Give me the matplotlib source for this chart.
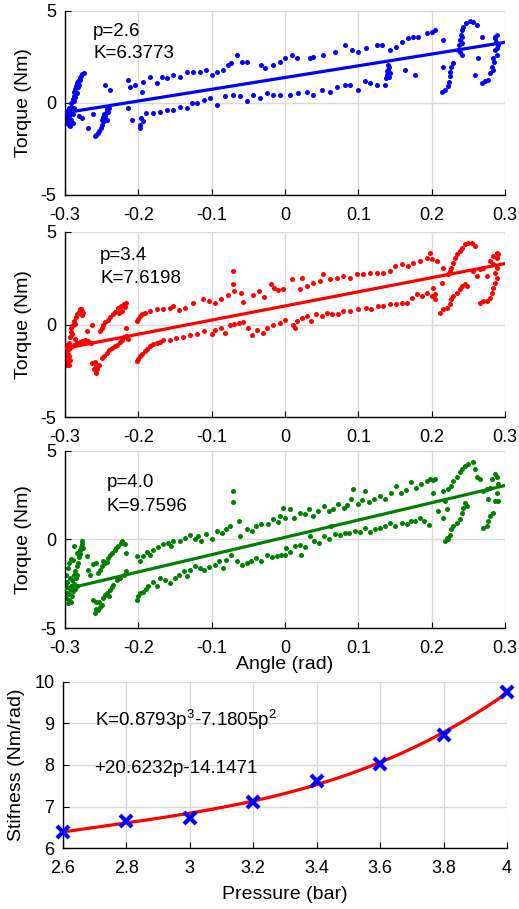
import matplotlib
matplotlib.use("Agg")
import matplotlib.pyplot as plt
from matplotlib.ticker import FormatStrFormatter
import numpy as np

plt.rcParams['font.family'] = ['Liberation Sans', 'DejaVu Sans']
plt.rcParams['mathtext.fontset'] = 'custom'
plt.rcParams['mathtext.rm'] = 'Liberation Sans'
plt.rcParams['mathtext.it'] = 'Liberation Sans'
plt.rcParams['axes.unicode_minus'] = False

# measured angle (rad) / torque (Nm) samples, p = 2.6 bar
torque_p26 = [
    (-0.298, -0.5), (-0.297, -0.8), (-0.296, -1.0), (-0.295, -1.2), (-0.294, -0.3), (-0.293, -0.6),
    (-0.292, 0.0), (-0.291, -0.9), (-0.290, -0.4), (-0.289, -1.1), (-0.288, 0.1), (-0.291, -0.2),
    (-0.294, -0.7), (-0.296, -0.4), (-0.289, -0.6), (-0.287, -0.3), (-0.297, -1.1), (-0.293, -1.25),
    (-0.299, -0.7), (-0.289, 0.2), (-0.288, 0.4), (-0.287, 0.6), (-0.286, 0.75), (-0.285, 0.9),
    (-0.284, 1.0), (-0.283, 1.1), (-0.282, 1.2), (-0.280, 1.35), (-0.278, 1.45), (-0.276, 1.55),
    (-0.274, 1.6), (-0.286, 0.3), (-0.284, 0.55), (-0.282, 0.85), (-0.281, 1.0), (-0.279, 1.25),
    (-0.281, -0.7), (-0.276, -0.8), (-0.268, -1.35), (-0.262, -0.6),
    (-0.259, -1.8), (-0.257, -1.75), (-0.255, -1.65), (-0.253, -1.5), (-0.251, -1.35), (-0.249, -1.2),
    (-0.247, -1.0), (-0.246, -0.85), (-0.245, -0.7), (-0.244, -0.55), (-0.243, -0.45), (-0.242, -0.35),
    (-0.241, -0.5), (-0.246, -0.6), (-0.248, -0.75), (-0.243, -0.9), (-0.240, -0.3), (-0.250, -0.9),
    (-0.245, 0.98), (-0.239, 0.71), (-0.2136, -0.29), (-0.209, -0.92),
    (-0.198, -1.38), (-0.197, -1.2), (-0.196, -0.83), (-0.194, -1.0), (-0.189, -0.56), (-0.18, -0.56),
    (-0.1705, -0.47), (-0.161, -0.38), (-0.152, -0.38), (-0.143, -0.2), (-0.134, -0.29), (-0.127, 0.0),
    (-0.1205, 0.0), (-0.111, 0.18), (-0.102, 0.27), (-0.093, -0.11), (-0.0818, 0.36), (-0.0705, 0.45),
    (-0.0614, 0.36), (-0.0523, 0.09), (-0.043, 0.45), (-0.034, 0.27), (-0.025, 0.54), (-0.016, 0.45),
    (-0.0068, 0.43), (0.0068, 0.43), (0.0182, 0.52), (0.0295, 0.62), (0.0386, 0.43), (0.05, 0.7),
    (0.061, 0.62), (0.0705, 0.89), (0.0818, 0.98), (0.0886, 0.98), (0.1, 0.7), (0.109, 1.2),
    (0.116, 1.07), (0.125, 0.98), (0.136, 0.98),
    (0.138, 1.35), (0.139, 1.5), (0.14, 1.65), (0.141, 1.8), (0.142, 1.95), (0.14, 2.05),
    (0.143, 1.6), (0.139, 1.75), (0.142, 1.4), (0.164, 1.79), (0.1773, 1.52),
    (-0.2136, 1.25), (-0.2114, 0.89), (-0.2045, 0.98), (-0.1955, 0.62), (-0.1932, 1.12), (-0.184, 1.43),
    (-0.175, 1.07), (-0.168, 1.43), (-0.161, 1.34), (-0.152, 1.52), (-0.143, 1.43), (-0.134, 1.7),
    (-0.125, 1.7), (-0.116, 1.7), (-0.107, 1.79), (-0.1, 1.5), (-0.093, 1.7), (-0.084, 1.79),
    (-0.077, 2.07), (-0.073, 2.16), (-0.066, 2.61), (-0.059, 2.25), (-0.052, 2.25), (-0.032, 2.07),
    (-0.027, 1.88), (-0.016, 2.07), (-0.0068, 2.25), (0.0, 2.43),
    (0.009, 2.61), (0.016, 2.43), (0.034, 2.43), (0.0386, 2.52), (0.052, 2.61), (0.068, 2.79),
    (0.082, 3.15), (0.091, 2.88), (0.1, 2.79), (0.111, 2.97), (0.125, 3.15), (0.132, 3.15),
    (0.143, 2.88), (0.152, 3.06), (0.159, 3.33), (0.168, 3.51), (0.175, 3.6), (0.182, 3.6),
    (0.193, 3.79), (0.2, 3.88), (0.2045, 3.97), (0.2159, 3.42),
    (0.2145, 0.58), (0.2177, 0.71), (0.2227, 0.9), (0.2236, 1.16), (0.2245, 1.44), (0.2255, 1.7),
    (0.227, 1.97), (0.2296, 2.16), (0.2159, 1.97),
    (0.2364, 2.88), (0.2377, 3.15), (0.2386, 3.42), (0.2395, 3.7), (0.241, 3.97), (0.2432, 4.15),
    (0.2468, 4.33), (0.2523, 4.45), (0.2568, 4.42), (0.2614, 4.24), (0.268, 3.6), (0.241, 3.24),
    (0.2386, 2.79), (0.242, 3.6), (0.241, 2.61), (0.2636, 2.43), (0.259, 1.52),
    (0.268, 1.07), (0.2727, 1.2), (0.277, 1.26), (0.2795, 1.63), (0.2818, 1.97), (0.2841, 2.43),
    (0.2864, 2.88), (0.2877, 3.33), (0.2886, 3.7), (0.2864, 3.51), (0.2909, 3.15), (0.2886, 2.61),
    (0.2841, 1.79), (0.2855, 2.2), (0.2895, 3.0), (0.287, 3.6),
]

# p = 3.4 bar
torque_p34 = [
    (-0.2977, -2.16), (-0.297, -1.9), (-0.296, -1.6), (-0.295, -1.3), (-0.294, -1.0), (-0.293, -0.7),
    (-0.292, -0.4), (-0.291, -0.2), (-0.289, 0.0), (-0.287, 0.2), (-0.285, 0.4), (-0.283, 0.55),
    (-0.281, 0.7), (-0.28, 0.81), (-0.278, 0.85), (-0.276, 0.75), (-0.275, 0.6), (-0.277, 0.5),
    (-0.286, 0.05), (-0.29, -0.5), (-0.299, -2.0), (-0.298, -1.8), (-0.296, -2.1), (-0.295, -2.2),
    (-0.297, -1.4), (-0.299, -1.1), (-0.294, -1.7), (-0.293, -1.9),
    (-0.292, -1.2), (-0.288, -1.1), (-0.284, -1.0), (-0.28, -0.95), (-0.276, -0.9), (-0.272, -0.85),
    (-0.268, -0.9), (-0.265, -1.0), (-0.27, -0.36), (-0.263, 0.0), (-0.286, -0.8),
    (-0.252, -0.36), (-0.25, -0.2), (-0.248, 0.0), (-0.245, 0.15), (-0.241, 0.27), (-0.238, 0.4),
    (-0.234, 0.54), (-0.231, 0.7), (-0.227, 0.9), (-0.224, 1.0), (-0.22, 1.08), (-0.216, 1.17),
    (-0.218, 0.95), (-0.222, 0.75), (-0.226, 0.6),
    (-0.263, -2.07), (-0.26, -2.4), (-0.258, -2.6), (-0.256, -2.4), (-0.254, -2.2), (-0.25, -1.8),
    (-0.247, -1.7), (-0.243, -1.53), (-0.24, -1.4), (-0.236, -1.26), (-0.232, -1.15), (-0.229, -1.08),
    (-0.225, -0.95), (-0.222, -0.81), (-0.219, -0.7), (-0.216, -0.63), (-0.214, -0.8), (-0.216, -0.18),
    (-0.257, -2.2), (-0.259, -2.0),
    (-0.2023, -1.98), (-0.2, -1.85), (-0.198, -1.71), (-0.195, -1.6), (-0.191, -1.44), (-0.188, -1.3),
    (-0.184, -1.17), (-0.18, -1.05), (-0.175, -0.99), (-0.17, -0.95), (-0.166, -0.81), (-0.157, -0.85),
    (-0.148, -0.72), (-0.139, -0.65), (-0.13, -0.54), (-0.12, -0.5), (-0.11, -0.36), (-0.1, -0.5),
    (-0.095, -0.3), (-0.087, -0.18), (-0.082, -0.45), (-0.075, 0.0), (-0.07, 0.05), (-0.062, 0.1),
    (-0.057, 0.16), (-0.051, -0.2), (-0.045, -0.54), (-0.038, -0.3), (-0.03, -0.45), (-0.025, -0.2),
    (-0.016, 0.0), (-0.0068, 0.09), (0.0, 0.27), (0.0114, 0.0), (0.0136, -0.18), (0.0159, 0.18),
    (0.0227, 0.36), (0.0295, 0.45), (0.036, 0.18), (0.043, 0.54), (0.05, 0.45), (0.057, 0.63),
    (0.0636, 0.54), (0.0727, 0.54), (0.0795, 0.72), (0.0886, 0.72), (0.1, 0.81), (0.111, 0.9),
    (0.118, 0.81), (0.127, 0.99), (0.134, 0.99), (0.143, 1.08), (0.152, 1.08), (0.159, 1.17),
    (0.1659, 1.17), (0.1727, 1.44), (0.1795, 1.62), (0.1864, 1.53), (0.193, 1.71), (0.2, 1.53),
    (0.2045, 1.35),
    (-0.2023, 0.18), (-0.2, 0.3), (-0.198, 0.45), (-0.195, 0.55), (-0.191, 0.63), (-0.184, 0.72),
    (-0.175, 0.81), (-0.166, 0.85), (-0.157, 0.9), (-0.152, 0.99), (-0.145, 0.8), (-0.136, 0.9),
    (-0.125, 1.17), (-0.112, 1.35), (-0.104, 1.25), (-0.095, 1.15), (-0.087, 1.35), (-0.078, 1.6),
    (-0.07, 1.8), (-0.0705, 2.88), (-0.0705, 2.16), (-0.06, 1.71), (-0.057, 1.2), (-0.044, 1.6),
    (-0.035, 1.8), (-0.028, 1.5), (-0.019, 2.16), (-0.015, 1.95), (-0.01, 1.85),
    (-0.0023, 1.89), (0.0091, 2.43), (0.0205, 1.89), (0.0227, 2.52), (0.0295, 2.07), (0.0386, 2.25),
    (0.0477, 2.34), (0.0523, 2.7), (0.0614, 2.43), (0.0705, 2.52), (0.0795, 2.61), (0.0886, 2.52),
    (0.0977, 2.7), (0.1068, 2.7), (0.1159, 2.79), (0.125, 2.79), (0.1341, 2.79), (0.1432, 2.88),
    (0.15, 3.15), (0.1591, 3.24), (0.1682, 3.15), (0.175, 3.33), (0.1841, 3.42), (0.193, 3.6),
    (0.1977, 3.87), (0.2, 3.51), (0.207, 3.42),
    (0.2114, 0.63), (0.216, 0.81), (0.2205, 0.9), (0.225, 1.08), (0.227, 1.35), (0.2296, 1.53),
    (0.234, 1.71), (0.2386, 1.89), (0.241, 2.07), (0.2455, 2.16), (0.2477, 2.07),
    (0.2227, 2.7), (0.225, 2.88), (0.227, 3.06), (0.2296, 3.33), (0.232, 3.6), (0.234, 3.78),
    (0.2386, 3.96), (0.241, 4.14), (0.2455, 4.32), (0.25, 4.41), (0.2545, 4.41), (0.259, 4.23),
    (0.216, 3.06), (0.2023, 1.98), (0.2136, 2.25), (0.2045, 1.62),
    (0.2568, 2.88), (0.2614, 2.61), (0.275, 2.61), (0.2659, 2.97), (0.2705, 3.06),
    (0.2659, 1.17), (0.2705, 1.26), (0.275, 1.26), (0.2795, 1.44), (0.2818, 1.71), (0.2841, 1.98),
    (0.2864, 2.25), (0.2886, 2.52), (0.2886, 3.06), (0.2886, 3.6), (0.2909, 3.78), (0.2886, 3.87),
    (0.2841, 3.69), (0.2795, 3.42), (0.2841, 3.24), (0.2864, 2.79),
]

# p = 4.0 bar
torque_p40 = [
    (-0.2964, -3.6), (-0.298, -3.3), (-0.297, -3.0), (-0.295, -3.4), (-0.294, -3.1), (-0.293, -2.8),
    (-0.292, -3.5), (-0.291, -2.6), (-0.29, -2.3), (-0.289, -2.9), (-0.288, -2.0), (-0.287, -2.5),
    (-0.286, -1.8), (-0.285, -2.2), (-0.284, -1.5), (-0.283, -2.0), (-0.282, -1.3), (-0.281, -1.0),
    (-0.28, -0.8), (-0.279, -0.6), (-0.278, -0.4), (-0.277, -0.25), (-0.276, -0.1), (-0.275, -0.5),
    (-0.299, -2.6), (-0.298, -2.0), (-0.296, -1.6), (-0.294, -1.3), (-0.292, -1.1), (-0.289, -1.14),
    (-0.287, -0.38), (-0.284, -0.76), (-0.28, -0.57), (-0.27, -0.95), (-0.268, -1.71), (-0.266, -2.0),
    (-0.293, -2.2), (-0.29, -3.2), (-0.286, -2.8), (-0.283, -2.6), (-0.297, -2.4),
    (-0.262, -3.4), (-0.2595, -4.17), (-0.257, -3.9), (-0.255, -3.98), (-0.252, -3.8), (-0.25, -3.7),
    (-0.248, -3.3), (-0.245, -3.15), (-0.243, -3.03), (-0.239, -2.84), (-0.236, -2.7), (-0.234, -2.56),
    (-0.229, -2.27), (-0.225, -2.18), (-0.22, -1.99), (-0.216, -1.8), (-0.258, -3.5), (-0.253, -3.5),
    (-0.24, -3.2),
    (-0.255, -1.9), (-0.252, -1.7), (-0.25, -1.52), (-0.245, -1.33), (-0.241, -1.04), (-0.238, -0.9),
    (-0.236, -0.76), (-0.232, -0.57), (-0.23, -0.5), (-0.227, -0.38), (-0.224, -0.2), (-0.222, -0.1),
    (-0.218, -0.28), (-0.216, -0.76), (-0.262, -1.4), (-0.258, -1.3), (-0.248, -1.2), (-0.243, -1.25),
    (-0.2023, -3.4), (-0.2, -3.2), (-0.198, -3.03), (-0.193, -2.94), (-0.19, -2.8), (-0.186, -2.65),
    (-0.18, -2.37), (-0.175, -2.6), (-0.17, -2.18), (-0.163, -2.3), (-0.157, -2.46), (-0.15, -2.2),
    (-0.145, -2.0), (-0.138, -1.8), (-0.134, -2.08), (-0.129, -1.7), (-0.123, -1.52), (-0.116, -1.6),
    (-0.11, -1.7), (-0.103, -1.55), (-0.096, -1.42), (-0.09, -1.23), (-0.085, -1.6), (-0.08, -1.14),
    (-0.073, -0.85), (-0.066, -1.2), (-0.059, -1.42), (-0.052, -1.3), (-0.046, -1.2), (-0.04, -1.04),
    (-0.032, -1.2), (-0.025, -0.85), (-0.018, -1.0), (-0.011, -0.95), (-0.005, -0.9), (0.0, -0.85),
    (-0.2023, -0.95), (-0.198, -1.2), (-0.193, -0.95), (-0.188, -0.7), (-0.184, -0.85), (-0.18, -0.57),
    (-0.173, -0.4), (-0.166, -0.28), (-0.16, -0.2), (-0.155, -0.35), (-0.152, -0.1), (-0.143, -0.1),
    (-0.136, 0.09), (-0.129, 0.28), (-0.123, 0.0), (-0.118, 0.19), (-0.114, -0.1), (-0.107, 0.3),
    (-0.1, 0.0), (-0.093, 0.47), (-0.086, 0.38), (-0.08, 0.6), (-0.075, 0.76), (-0.0705, 2.75),
    (-0.0705, 2.09), (-0.063, 1.04), (-0.061, 0.19), (-0.052, 0.6), (-0.045, 0.5), (-0.039, 0.76),
    (-0.032, 0.9), (-0.023, 0.85), (-0.016, 1.14), (-0.0068, 1.33), (-0.002, 1.8), (-0.01, 1.0),
    (0.0, 1.23), (0.007, 1.7), (0.012, 1.2), (0.02, 1.5), (0.027, 1.42), (0.033, 1.7),
    (0.038, 1.33), (0.045, 1.6), (0.053, 1.89), (0.06, 1.6), (0.066, 1.7), (0.073, 1.99),
    (0.08, 1.8), (0.085, 1.95), (0.09, 2.27), (0.093, 2.84), (0.1, 2.0), (0.105, 2.2),
    (0.109, 2.75), (0.115, 2.1), (0.122, 2.3), (0.13, 2.46), (0.137, 2.3), (0.144, 2.6),
    (0.151, 3.03), (0.158, 2.6), (0.165, 2.8), (0.172, 3.22), (0.179, 2.9), (0.186, 3.12),
    (0.193, 3.3), (0.198, 3.41), (0.2045, 3.41), (0.202, 3.35),
    (0.002, -0.47), (0.007, -0.68), (0.014, -0.35), (0.02, -0.3), (0.022, -0.85), (0.028, -0.4),
    (0.034, 0.19), (0.04, -0.1), (0.046, -0.2), (0.053, 0.19), (0.06, 0.05), (0.063, 0.76),
    (0.068, 0.3), (0.075, 0.25), (0.082, 0.35), (0.088, 0.38), (0.095, 0.5), (0.102, 0.45),
    (0.109, 0.66), (0.116, 0.45), (0.123, 0.6), (0.13, 0.66), (0.137, 0.75), (0.143, 0.95),
    (0.15, 0.75), (0.159, 0.95), (0.166, 0.9), (0.172, 1.05), (0.178, 1.04), (0.184, 1.2),
    (0.19, 1.04), (0.196, 0.8),
    (0.218, -0.1), (0.2205, 0.09), (0.225, 0.28), (0.227, 0.57), (0.2296, 0.76), (0.234, 0.95),
    (0.2386, 1.14), (0.241, 1.52), (0.2432, 1.8), (0.2455, 2.08), (0.2477, 1.9), (0.222, 0.0),
    (0.218, 2.17), (0.216, 2.74), (0.2227, 2.84), (0.227, 3.03), (0.2296, 3.31), (0.234, 3.5),
    (0.2386, 3.78), (0.241, 3.97), (0.2455, 4.16), (0.25, 4.26), (0.2568, 4.35), (0.259, 3.97),
    (0.2614, 3.5), (0.2659, 3.41), (0.2023, 2.65), (0.209, 1.61), (0.216, 1.23), (0.2205, 1.7),
    (0.2705, 0.66), (0.275, 0.76), (0.277, 1.04), (0.2795, 1.33), (0.2841, 1.52), (0.2864, 2.17),
    (0.2886, 2.65), (0.2909, 3.12), (0.2886, 3.5), (0.2864, 3.69), (0.2818, 3.41), (0.2795, 2.93),
    (0.275, 2.84), (0.2705, 2.74), (0.277, 2.27), (0.2909, 2.17),
]

# linear fits: slope K (Nm/rad) and offset (Nm)
pressures_shown = ['2.6', '3.4', '4.0']
fit_K = [6.3773, 7.6198, 9.7596]
fit_offset = [1.38, 1.0, 0.12]
colors = ['#0000ff', '#ff0000', '#008000']

# stiffness vs pressure
pressure = [2.6, 2.8, 3.0, 3.2, 3.4, 3.6, 3.8, 4.0]
stiffness = [6.3773, 6.65, 6.72, 7.12, 7.6198, 8.02, 8.72, 9.7596]
poly = [0.8793, -7.1805, 20.6232, -14.1471]

fig = plt.figure(figsize=(5.19, 9.09), dpi=100)
boxes = [
    [0.125, 0.7855, 0.848, 0.2025],
    [0.125, 0.541, 0.848, 0.204],
    [0.125, 0.309, 0.848, 0.195],
]
label_y = [(0.886, 0.766), (0.87, 0.746), (0.82, 0.684)]
label_x = [0.064, 0.08, 0.095]
grid_c = '#d9d9d9'


def style(ax):
    ax.grid(True, color=grid_c, linewidth=1.0)
    ax.set_axisbelow(True)
    for s in ['top', 'right']:
        ax.spines[s].set_visible(False)
    for s in ['left', 'bottom']:
        ax.spines[s].set_linewidth(1.0)
    ax.tick_params(direction='in', length=4, labelsize=13, top=False, right=False)
    ax.tick_params(axis='x', pad=8.5)
    ax.tick_params(axis='y', pad=6)


for i, data in enumerate([torque_p26, torque_p34, torque_p40]):
    ax = fig.add_axes(boxes[i])
    pts = np.array(data)
    ax.scatter(pts[:, 0], pts[:, 1], s=13, color=colors[i], linewidths=0, zorder=2)
    xl = np.array([-0.298, 0.3])
    ax.plot(xl, fit_K[i] * xl + fit_offset[i], color=colors[i], lw=2.3, zorder=3)
    ax.set_xlim(-0.3, 0.3)
    ax.set_ylim(-5, 5)
    ax.set_xticks(np.round(np.arange(-0.3, 0.31, 0.1), 1))
    ax.set_yticks([-5, 0, 5])
    ax.xaxis.set_major_formatter(FormatStrFormatter('%g'))
    style(ax)
    ax.set_ylabel('Torque (Nm)', fontsize=14)
    ax.yaxis.set_label_coords(-0.075, 0.5)
    ax.text(label_x[i], label_y[i][0], 'p=' + pressures_shown[i], transform=ax.transAxes,
            fontsize=13.5, va='center', ha='left')
    ax.text(label_x[i], label_y[i][1], 'K=%.4f' % fit_K[i], transform=ax.transAxes,
            fontsize=13.5, va='center', ha='left')
    if i == 2:
        ax.set_xlabel('Angle (rad)', fontsize=14)
        ax.xaxis.set_label_coords(0.5, -0.16)

ax4 = fig.add_axes([0.121, 0.067, 0.856, 0.183])
pp = np.linspace(2.6, 4.0, 200)
ax4.plot(pp, np.polyval(poly, pp), color='#ff0000', lw=2.3, zorder=2)
ax4.plot(pressure, stiffness, 'x', color='#0000ff', markersize=9, mew=3, zorder=3, clip_on=False)
ax4.set_xlim(2.6, 4.0)
ax4.set_ylim(6, 10)
ax4.set_xticks(np.round(np.arange(2.6, 4.01, 0.2), 1))
ax4.set_yticks([6, 7, 8, 9, 10])
ax4.xaxis.set_major_formatter(FormatStrFormatter('%g'))
style(ax4)
ax4.set_ylabel('Stifness (Nm/rad)', fontsize=14)
ax4.yaxis.set_label_coords(-0.086, 0.5)
ax4.set_xlabel('Pressure (bar)', fontsize=14)
ax4.xaxis.set_label_coords(0.5, -0.23)
ax4.text(2.7, 9.08, 'K=0.8793p$^{3}$-7.1805p$^{2}$', fontsize=13.5, va='center', ha='left')
ax4.text(2.7, 7.92, '+20.6232p-14.1471', fontsize=13.5, va='center', ha='left')

fig.savefig('out.png', dpi=100)
